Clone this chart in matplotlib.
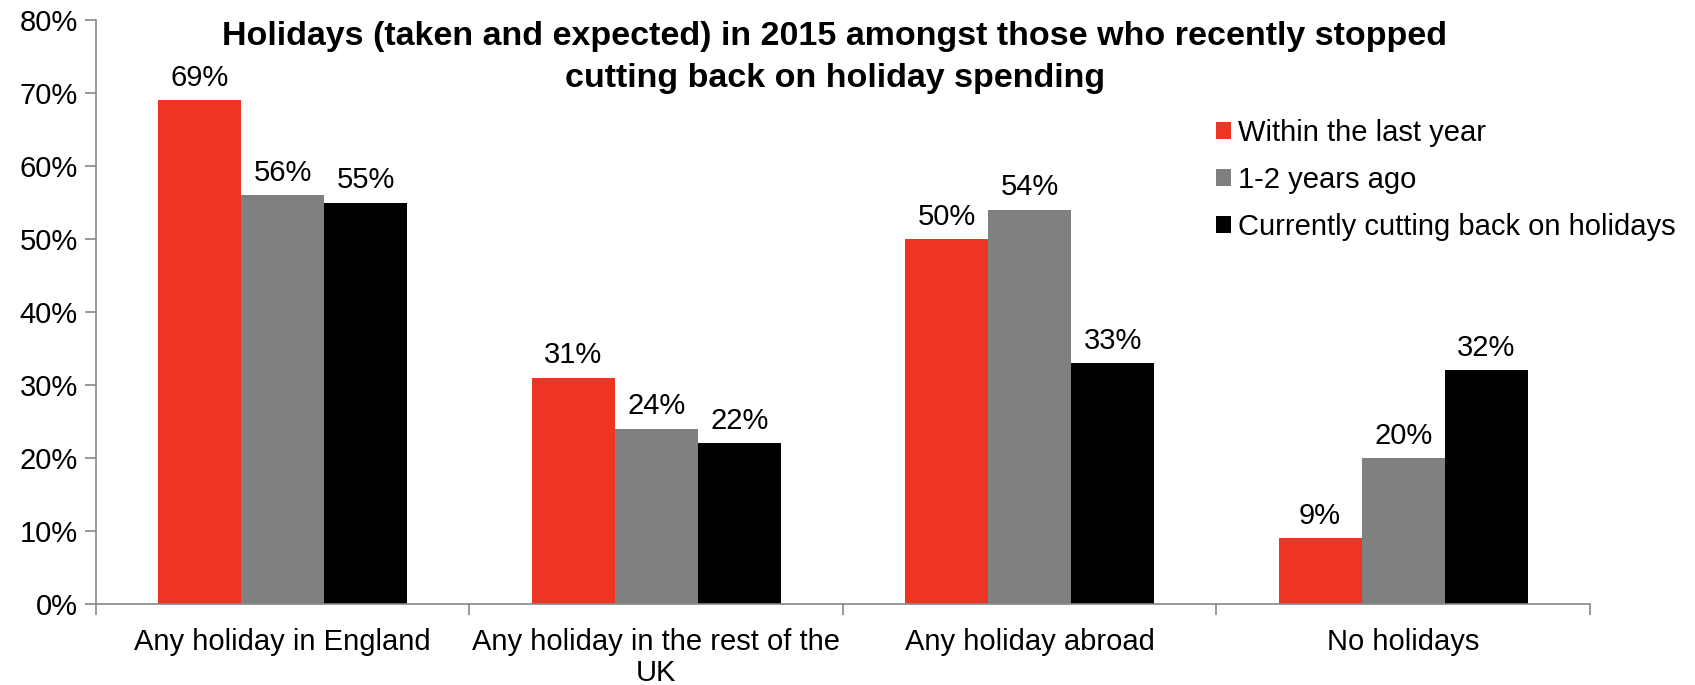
import matplotlib.pyplot as plt
import numpy as np

plt.rcParams['font.family'] = ['Liberation Sans', 'DejaVu Sans']

# === Dati ===
categories = ["Any holiday in England", "Any holiday in the rest of the\nUK",
              "Any holiday abroad", "No holidays"]
series_names = ["Within the last year", "1-2 years ago", "Currently cutting back on holidays"]
within_last_year = [69, 31, 50, 9]
one_two_years_ago = [56, 24, 54, 20]
currently_cutting = [55, 22, 33, 32]
y_ticks = [0, 10, 20, 30, 40, 50, 60, 70, 80]
title_lines = ["Holidays (taken and expected) in 2015 amongst those who recently stopped",
               "cutting back on holiday spending"]

colors = ["#EE3524", "#808080", "#000000"]
series = [within_last_year, one_two_years_ago, currently_cutting]
FS = 21

fig = plt.figure(figsize=(16.95, 6.85), dpi=100)
ax = fig.add_axes([0.0566, 0.1182, 0.8814, 0.8526])

centers = np.arange(len(categories)) + 0.5
bar_w = 0.2225
for i, (vals, name, col) in enumerate(zip(series, series_names, colors)):
    xs = centers + (i - 1) * bar_w
    ax.bar(xs, vals, width=bar_w, color=col, label=name, zorder=2)
    for x, v in zip(xs, vals):
        ax.annotate(f"{v}%", (x, v), xytext=(0, 6), textcoords="offset points",
                    ha="center", va="bottom", fontsize=FS)

# === Assi ===
ax.set_xlim(0, len(categories))
ax.set_ylim(0, 80)
ax.set_yticks(y_ticks)
ax.set_yticklabels([f"{t}%" for t in y_ticks], fontsize=FS)
ax.set_xticks(np.arange(len(categories) + 1))
ax.set_xticklabels([])
ax.set_xticks(centers, minor=True)
ax.set_xticklabels(categories, minor=True, fontsize=FS, linespacing=1.15)
ax.tick_params(axis="x", which="minor", length=0, pad=17)
ax.tick_params(axis="x", which="major", length=8, color="#888888", width=1.2)
ax.tick_params(axis="y", length=8, color="#888888", width=1.2, pad=5)

for side in ["top", "right"]:
    ax.spines[side].set_visible(False)
for side in ["left", "bottom"]:
    ax.spines[side].set_color("#888888")
    ax.spines[side].set_linewidth(1.2)

# titolo su due righe separate
for y, line in zip([0.9474, 0.8861], title_lines):
    fig.text(0.4926, y, line, fontsize=24.5, fontweight="bold", ha="center", va="center")

ax.legend(loc="upper left", bbox_to_anchor=(0.7174, 0.8262), bbox_transform=fig.transFigure,
          frameon=False, fontsize=FS, handlelength=0.5, handleheight=0.5, handletextpad=0.25,
          labelspacing=0.65, borderpad=0, borderaxespad=0)

plt.savefig("out.png", dpi=100)
plt.close()
